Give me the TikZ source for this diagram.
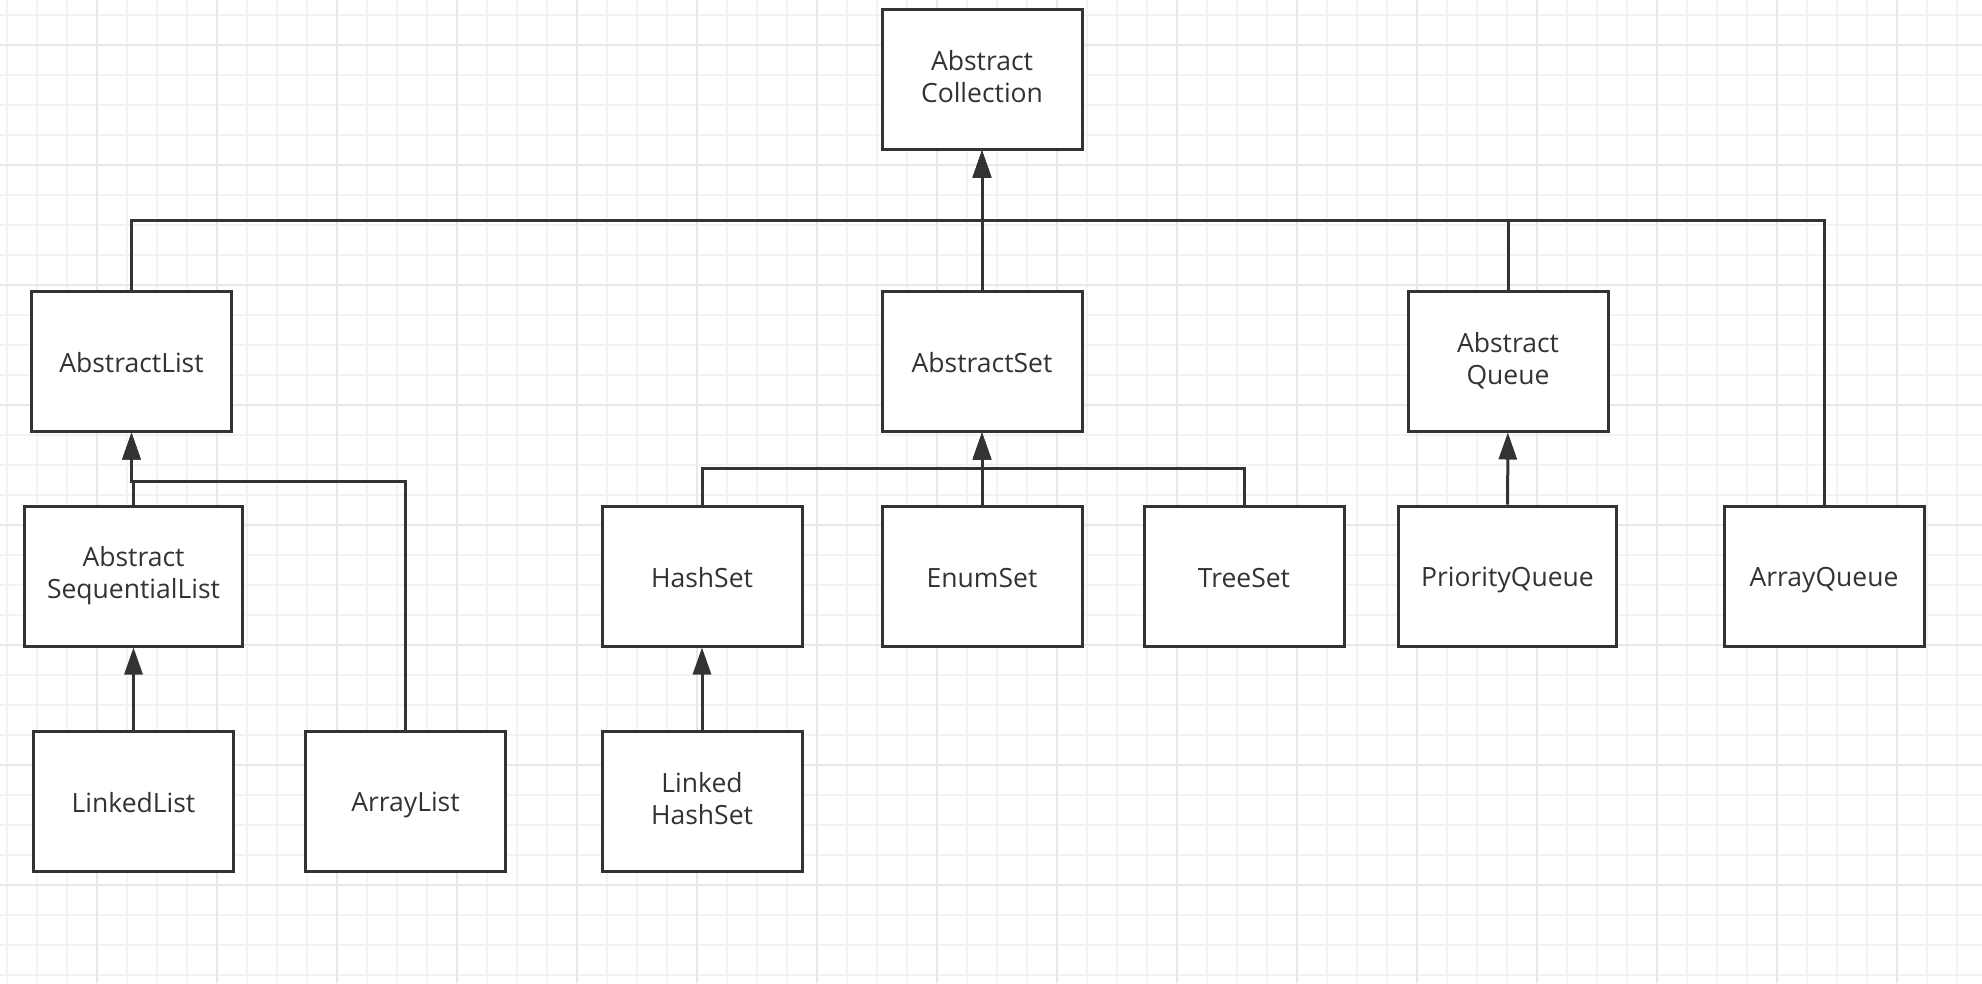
\documentclass[tikz,border=0pt]{standalone}
\usepackage{fontspec}
\setmainfont{Open Sans}
\usetikzlibrary{arrows.meta}
\definecolor{ink}{HTML}{333333}
\definecolor{gridminor}{HTML}{F3F3F3}
\definecolor{gridmajor}{HTML}{E8E8E8}
\newcommand{\clsstrut}{\rule[-4.6pt]{0pt}{32pt}}
\tikzset{
	cls/.style={draw=ink, line width=3pt, fill=white, minimum width=200pt, minimum height=140pt,
		inner sep=0pt, align=center, text=ink, font=\fontsize{26.5}{32}\selectfont,
		execute at begin node=\clsstrut, execute at end node=\clsstrut},
	widecls/.style={cls, minimum width=218pt},
	inh/.style={draw=ink, line width=3pt, -{Triangle[length=27pt, width=18pt]}},
}
\begin{document}
\begin{tikzpicture}[x=1pt, y=-1pt]
	\fill[white] (0,0) rectangle (1982,983);
	\useasboundingbox (0,0) rectangle (1982,983);

	% paper grid
	\foreach \x in {7,37,...,1982} \draw[gridminor, line width=1.5pt] (\x,0) -- (\x,983);
	\foreach \y in {15,45,...,983} \draw[gridminor, line width=1.5pt] (0,\y) -- (1982,\y);
	\foreach \x in {97,217,...,1982} \draw[gridmajor, line width=2pt] (\x,0) -- (\x,983);
	\foreach \y in {45,165,...,983} \draw[gridmajor, line width=2pt] (0,\y) -- (1982,\y);

	% classes
	\node[cls] (coll) at (982,79) {Abstract\\Collection};
	\node[cls] (alist) at (131.5,361) {AbstractList};
	\node[cls] (aset) at (982,361) {AbstractSet};
	\node[cls] (aqueue) at (1508,361) {Abstract\\Queue};
	\node[widecls] (seqlist) at (133.5,576) {Abstract\\SequentialList};
	\node[cls] (hashset) at (702,576) {HashSet};
	\node[cls] (enumset) at (982,576) {EnumSet};
	\node[cls] (treeset) at (1244,576) {TreeSet};
	\node[widecls] (prioq) at (1507.5,576) {PriorityQueue};
	\node[cls] (arrayq) at (1824,576) {ArrayQueue};
	\node[cls] (linkedlist) at (133.5,801) {LinkedList};
	\node[cls] (arraylist) at (405.5,801) {ArrayList};
	\node[cls] (linkedhs) at (702,801) {Linked\\HashSet};

	% bus lines
	\coordinate (topbus) at (0,220);
	\coordinate (listbus) at (0,481);
	\coordinate (setbus) at (0,468);

	% inheritance
	\draw[inh] (alist.north) -- (alist.north |- topbus) -| (coll.south);
	\draw[inh] (aqueue.north) -- (aqueue.north |- topbus) -| (coll.south);
	\draw[inh] (arrayq.north) -- (arrayq.north |- topbus) -| (coll.south);
	\draw[inh] (aset) -- (coll);

	\draw[inh] (seqlist.north) -- (seqlist.north |- listbus) -| (alist.south);
	\draw[inh] (arraylist.north) -- (arraylist.north |- listbus) -| (alist.south);
	\draw[inh] (linkedlist) -- (seqlist);

	\draw[inh] (hashset.north) -- (hashset.north |- setbus) -| (aset.south);
	\draw[inh] (treeset.north) -- (treeset.north |- setbus) -| (aset.south);
	\draw[inh] (enumset) -- (aset);
	\draw[inh] (linkedhs) -- (hashset);

	\draw[inh] (prioq) -- (aqueue);
\end{tikzpicture}
\end{document}
